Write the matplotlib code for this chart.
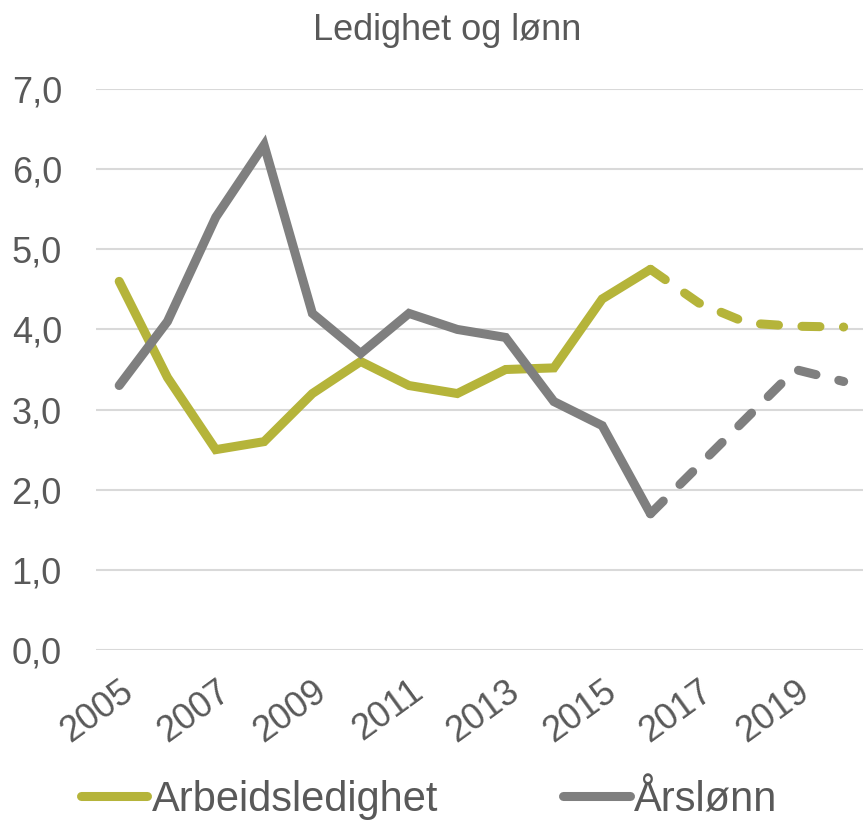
import numpy as np
import matplotlib
matplotlib.use('Agg')
import matplotlib.pyplot as plt
import matplotlib.transforms as mtransforms
from matplotlib.lines import Line2D

plt.rcParams['font.family'] = ['Liberation Sans', 'DejaVu Sans']

# ── Data ──────────────────────────────────────────────
years = [2005, 2006, 2007, 2008, 2009, 2010, 2011, 2012,
         2013, 2014, 2015, 2016, 2017, 2018, 2019, 2020]
ledighet = [4.6, 3.4, 2.5, 2.6, 3.2, 3.6, 3.3, 3.2,
            3.5, 3.52, 4.38, 4.75, 4.33, 4.08, 4.04, 4.03]
lonn = [3.3, 4.1, 5.4, 6.3, 4.2, 3.7, 4.2, 4.0,
        3.9, 3.1, 2.8, 1.7, 2.3, 2.9, 3.5, 3.35]
n_actual = 12  # 2005-2016 observed, rest forecast (dashed)
tick_years = [2005, 2007, 2009, 2011, 2013, 2015, 2017, 2019]
yticks = [0, 1, 2, 3, 4, 5, 6, 7]

OLIVE = '#B5B43A'
GRAY = '#7F7F7F'
TXT = '#595959'

fig = plt.figure(figsize=(8.63, 8.22), dpi=100)
ax = fig.add_axes([96 / 863, 1 - 650 / 822, 1 - 96 / 863, (650 - 89) / 822])

lw = 6.5
for vals, col in [(ledighet, OLIVE), (lonn, GRAY)]:
    ax.plot(years[:n_actual], vals[:n_actual], color=col, lw=lw,
            solid_capstyle='round', solid_joinstyle='miter', zorder=3)
    ax.plot(years[n_actual - 1:], vals[n_actual - 1:], color=col, lw=lw,
            dashes=(2.0, 2.6), dash_capstyle='round', zorder=3)

ax.set_xlim(2004.52, 2020.4)
ax.set_ylim(0, 7)
ax.set_yticks(yticks)
ax.set_yticklabels([f'{v:.1f}'.replace('.', ',') for v in yticks],
                   fontsize=26, color=TXT)
ax.set_xticks(tick_years)
ax.set_xticklabels([str(y) for y in tick_years], fontsize=26, color=TXT,
                   rotation=36, ha='right', rotation_mode='anchor')
shift = mtransforms.ScaledTranslation(-12 / 100, 0, fig.dpi_scale_trans)
for lab in ax.get_xticklabels():
    lab.set_transform(lab.get_transform() + shift)
ax.tick_params(axis='both', length=0)
ax.tick_params(axis='y', pad=24.5)
ax.tick_params(axis='x', pad=17)
ax.grid(axis='y', color='#D9D9D9', lw=1.5)
ax.set_axisbelow(True)
for s in ax.spines.values():
    s.set_visible(False)

fig.text(447 / 863, 1 - 30 / 822, 'Ledighet og lønn', ha='center', va='center',
         fontsize=26, color=TXT)

handles = [Line2D([], [], color=OLIVE, lw=lw, solid_capstyle='round'),
           Line2D([], [], color=GRAY, lw=lw, solid_capstyle='round')]
fig.legend(handles, ['Arbeidsledighet', 'Årslønn'], loc='center',
           bbox_to_anchor=(0.497, 1 - 800 / 822), ncol=2, frameon=False,
           fontsize=30, labelcolor=TXT, handlelength=1.6, handletextpad=0.1,
           columnspacing=3.0)

fig.savefig('out.png', dpi=100)
